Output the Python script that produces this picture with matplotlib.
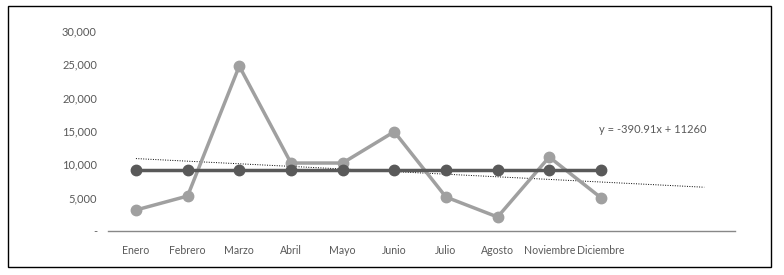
import numpy as np
import matplotlib.pyplot as plt
from matplotlib.patches import Rectangle

# datos
meses = ["Enero", "Febrero", "Marzo", "Abril", "Mayo", "Junio",
         "Julio", "Agosto", "Noviembre", "Diciembre"]
ventas = [3150, 5250, 24750, 10200, 10200, 14900, 5100, 2100, 11100, 5000]
promedio = [9100] * len(meses)

# tendencia lineal (Excel, x = 1..n), con pronóstico de 2 periodos
pend = -390.91
inter = 11260
n_pron = 2
ecuacion = "y = -390.91x + 11260"

yticks = [0, 5000, 10000, 15000, 20000, 25000, 30000]
ylabels = ["-", "5,000", "10,000", "15,000", "20,000", "25,000", "30,000"]

plt.rcParams['font.family'] = ['Lato', 'DejaVu Sans']
txt = "#595959"

fig = plt.figure(figsize=(7.84, 2.75), dpi=100)
ax = fig.add_axes([0.1378, 0.16, 0.80, 0.727])

x = np.arange(len(meses))
xt = np.arange(len(meses) + n_pron)
ax.plot(xt, pend * (xt + 1) + inter, ls=(0, (1, 1.5)), color="black", lw=0.7, zorder=1)
ax.plot(x, ventas, color="#a0a0a0", lw=2.5, marker="o", ms=7.5, zorder=2)
ax.plot(x, promedio, color="#595959", lw=2.5, marker="o", ms=7.5, zorder=3)

ax.text(10.0, 15200, ecuacion, color=txt, fontsize=8, ha="center", va="center")

ax.set_xlim(-0.54, 11.6)
ax.set_ylim(0, 30000)
ax.set_xticks(x)
ax.set_xticklabels(meses)
ax.set_yticks(yticks)
ax.set_yticklabels(ylabels)
ax.tick_params(axis="both", length=0, labelsize=8, colors=txt)
ax.tick_params(axis="x", pad=10, labelsize=7.6)
ax.tick_params(axis="y", pad=8)
for s in ["top", "right", "left"]:
    ax.spines[s].set_visible(False)
ax.spines["bottom"].set_color("#888888")
ax.spines["bottom"].set_linewidth(1)

fig.patches.append(Rectangle((8 / 784, 1 - 267 / 275), 763 / 784, 261 / 275,
                             transform=fig.transFigure, fill=False,
                             edgecolor="black", lw=1))

fig.savefig("out.png", dpi=100)
